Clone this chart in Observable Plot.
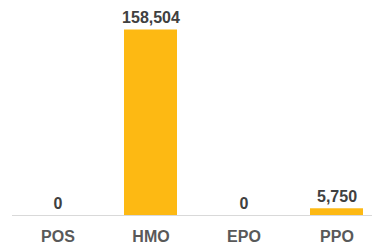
<!DOCTYPE html>
<html><head><meta charset="utf-8">
<script src="https://cdn.jsdelivr.net/npm/d3@7"></script>
<script src="https://cdn.jsdelivr.net/npm/@observablehq/plot@0.6"></script>
<style>body{margin:0;background:#fff;} svg{display:block;}</style>
</head><body><div id="chart"></div>
<script>
const categories = ["POS", "HMO", "EPO", "PPO"];
const values = [0, 158504, 0, 5750];
const data = categories.map((c, i) => ({cat: c, value: values[i]}));
const fmt = d3.format(",");
const chart = Plot.plot({
  width: 382,
  height: 246,
  marginLeft: 12,
  marginRight: 10,
  marginTop: 0,
  marginBottom: 31,
  style: {fontFamily: "'Liberation Sans', Arial, sans-serif", background: "#fff"},
  x: {domain: categories, range: [11.5, 383.5], paddingInner: 0.43, paddingOuter: 0.215, label: null},
  y: {domain: [0, 158504], range: [215, 29.5], axis: null},
  marks: [
    Plot.barY(data, {x: "cat", y: "value", fill: "#FDB913"}),
    Plot.ruleY([0], {stroke: "#D9D9D9", strokeWidth: 1}),
    Plot.text(data, {x: "cat", y: "value", text: d => fmt(d.value), dy: -7, lineAnchor: "bottom",
      fontSize: 16, fontWeight: "bold", fill: "#404040"}),
    Plot.axisX({tickSize: 0, tickPadding: 15, fontSize: 16, fontWeight: "bold", fill: "#595959", label: null})
  ]
});
document.getElementById("chart").appendChild(chart);
</script></body></html>
